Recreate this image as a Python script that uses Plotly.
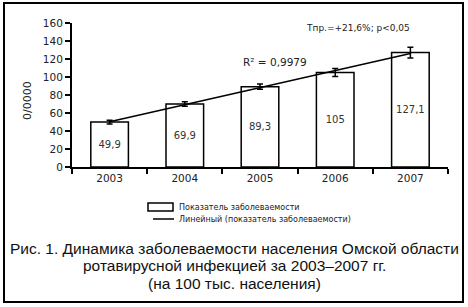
import numpy as np
import plotly.graph_objects as go

years = ["2003", "2004", "2005", "2006", "2007"]
rates = [49.9, 69.9, 89.3, 105, 127.1]
errors = [2, 2.5, 3, 4.5, 6]
y_ticks = [0, 20, 40, 60, 80, 100, 120, 140, 160]

labels = [f"{v:g}".replace(".", ",") for v in rates]

# linear trend (least squares on the data)
xi = np.arange(len(rates))
k, b = np.polyfit(xi, rates, 1)
trend = [k * i + b for i in xi]

SANS = "DejaVu Sans, Verdana, sans-serif"
ARIAL = "Liberation Sans, Arial, sans-serif"

fig = go.Figure()
fig.add_trace(go.Bar(
    x=years, y=rates, width=0.5,
    marker=dict(color="white", line=dict(color="black", width=1.5)),
    error_y=dict(type="data", array=errors, color="black", thickness=1.5, width=3),
    text=labels, textposition="inside", insidetextanchor="middle",
    textfont=dict(family=SANS, size=10, color="#333"),
    name="Показатель заболеваемости", showlegend=False,
))
fig.add_trace(go.Scatter(
    x=[years[0], years[-1]], y=[trend[0], trend[-1]], mode="lines",
    line=dict(color="black", width=1.5),
    name="Линейный (показатель заболеваемости)", showlegend=False,
))

def px_x(p):
    return (p - 72) / 376

def px_y(p):
    return (167 - p) / 144

shapes = [
    dict(type="rect", xref="paper", yref="paper",
         x0=px_x(4), x1=px_x(463), y0=px_y(302), y1=px_y(3),
         line=dict(color="black", width=2)),
    dict(type="rect", xref="paper", yref="paper",
         x0=px_x(148), x1=px_x(173), y0=px_y(211), y1=px_y(203),
         line=dict(color="black", width=1.5), fillcolor="white"),
    dict(type="line", xref="paper", yref="paper",
         x0=px_x(153), x1=px_x(174), y0=px_y(219), y1=px_y(219),
         line=dict(color="black", width=1.5)),
]

def ann(text, x, y, size, family=SANS, xanchor="center", color="#222", angle=0):
    return dict(text=text, xref="paper", yref="paper", x=px_x(x), y=px_y(y),
                xanchor=xanchor, yanchor="middle", showarrow=False,
                textangle=angle, font=dict(family=family, size=size, color=color))

caption = [
    "Рис. 1. Динамика заболеваемости населения Омской области",
    "ротавирусной инфекцией за 2003–2007 гг.",
    "(на 100 тыс. населения)",
]

annotations = [
    ann("R² = 0,9979", 275, 62, 10.5),
    ann("Тпр.=+21,6%; p<0,05", 358, 28, 9),
    ann("Показатель заболеваемости", 177, 207, 8, xanchor="left"),
    ann("Линейный (показатель заболеваемости)", 177, 219, 8, xanchor="left"),
    ann(caption[0], 234, 248, 15.5, family=ARIAL, color="#111"),
    ann(caption[1], 234, 265, 15.5, family=ARIAL, color="#111"),
    ann(caption[2], 234, 283, 15.5, family=ARIAL, color="#111"),
    ann("0/0000", 27, 101, 11, angle=-90),
]

fig.update_layout(
    width=468, height=307,
    margin=dict(l=72, r=20, t=23, b=140),
    paper_bgcolor="white", plot_bgcolor="white",
    shapes=shapes, annotations=annotations,
    bargap=0.5,
)
fig.update_xaxes(
    type="category", tickson="boundaries", ticks="outside", ticklen=5,
    tickwidth=1.5, tickcolor="black", showline=True, linewidth=2,
    linecolor="black", showgrid=False,
    tickfont=dict(family=SANS, size=10.5, color="#222"),
)
fig.update_yaxes(
    range=[0, 160], tickvals=y_ticks, ticks="outside", ticklen=5,
    tickwidth=1.5, tickcolor="black", showline=True, linewidth=2,
    linecolor="black", showgrid=False, zeroline=False,
    tickfont=dict(family=SANS, size=10.5, color="#222"),
)

fig.write_html("out.html")
